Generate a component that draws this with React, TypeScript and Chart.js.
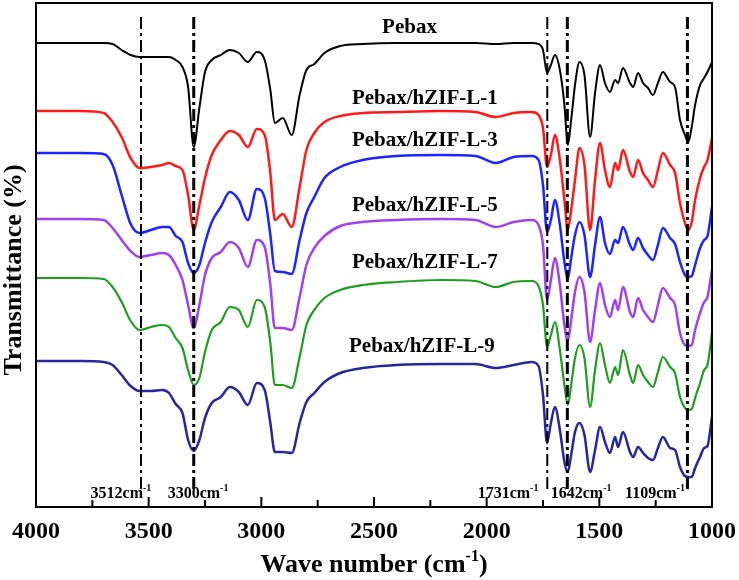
import React, { useEffect, useRef } from 'react';
import { Chart, registerables } from 'chart.js';

Chart.register(...registerables);

// Wavenumber grid (cm^-1), shared by all spectra
const wavenumbers = [
  4000, 3800, 3700, 3660, 3620, 3580, 3540, 3490, 3440, 3410,
  3380, 3350, 3325, 3300, 3275, 3250, 3220, 3180, 3140, 3100,
  3060, 3020, 2985, 2960, 2940, 2905, 2865, 2830, 2800, 2765,
  2720, 2650, 2550, 2400, 2200, 2050, 1960, 1880, 1800, 1770,
  1750, 1732, 1715, 1697, 1675, 1655, 1640, 1625, 1608, 1588,
  1566, 1541, 1519, 1497, 1475, 1453, 1430, 1417, 1395, 1364,
  1350, 1328, 1306, 1284, 1262, 1240, 1218, 1186, 1164, 1142,
  1120, 1105, 1090, 1075, 1053, 1035, 1020, 1000,
];

// Transmittance (arbitrary, stacked offsets)
const pebax = [
  457, 457, 457, 456, 450, 445, 443, 443, 443, 443,
  440, 433, 413, 353, 392, 428, 440, 445, 450, 447,
  438, 448, 440, 410, 377, 382, 365, 405, 430, 436,
  447, 454, 456, 457, 457, 457, 456, 457, 457, 456,
  450, 427, 435, 445, 430, 395, 355, 380, 415, 438,
  425, 363, 407, 435, 417, 408, 420, 417, 432, 417,
  413, 427, 417, 412, 405, 417, 428, 418, 413, 380,
  365, 358, 373, 395, 415, 422, 428, 438,
];
const hzif1 = [
  389, 389, 387, 378, 363, 342, 332, 333, 335, 337,
  334, 330, 305, 270, 295, 322, 345, 360, 369, 365,
  353, 371, 365, 327, 280, 286, 273, 313, 350, 367,
  378, 384, 387, 388, 389, 388, 383, 387, 388, 385,
  372, 333, 345, 365, 340, 300, 270, 290, 320, 352,
  335, 270, 320, 357, 330, 313, 337, 330, 350, 328,
  323, 340, 327, 320, 313, 330, 347, 335, 327, 297,
  277, 270, 278, 300, 322, 333, 340, 362,
];
const hzif3 = [
  347, 347, 346, 335, 305, 276, 267, 270, 273, 273,
  264, 258, 237, 227, 235, 257, 278, 293, 308, 300,
  280, 311, 302, 265, 229, 228, 226, 260, 287, 303,
  322, 333, 340, 344, 345, 344, 337, 343, 344, 340,
  315, 268, 280, 300, 275, 238, 221, 242, 265, 278,
  265, 223, 255, 283, 257, 246, 260, 257, 273, 255,
  250, 262, 252, 245, 240, 255, 272, 262, 256, 238,
  225, 223, 224, 235, 252, 260, 264, 293,
];
const hzif5 = [
  281, 281, 280, 272, 260, 249, 243, 245, 247, 245,
  235, 220, 195, 172, 195, 225, 242, 248, 258, 252,
  233, 260, 253, 215, 172, 172, 170, 203, 235, 252,
  264, 274, 278, 280, 281, 280, 273, 278, 280, 275,
  255, 200, 220, 242, 215, 175, 159, 180, 208, 223,
  208, 158, 190, 217, 195, 183, 200, 190, 213, 188,
  183, 202, 190, 183, 178, 195, 212, 202, 195, 167,
  155, 154, 155, 170, 187, 198, 203, 230,
];
const hzif7 = [
  222, 222, 221, 213, 198, 179, 170, 173, 175, 173,
  162, 152, 130, 115, 122, 148, 170, 178, 193, 190,
  173, 200, 193, 157, 115, 115, 112, 143, 175, 190,
  202, 210, 215, 218, 220, 219, 213, 218, 219, 214,
  195, 153, 165, 178, 150, 115, 95, 115, 142, 155,
  142, 93, 130, 157, 135, 117, 133, 125, 150, 125,
  117, 135, 125, 118, 113, 128, 143, 133, 127, 103,
  92, 90, 91, 102, 117, 130, 135, 167,
];
const hzif9 = [
  139, 139, 138, 135, 125, 114, 109, 109, 110, 107,
  96, 87, 60, 49, 60, 82, 97, 103, 113, 108,
  95, 117, 110, 77, 48, 48, 47, 77, 98, 107,
  118, 127, 132, 135, 136, 136, 132, 135, 138, 134,
  105, 57, 77, 93, 70, 38, 28, 45, 68, 77,
  65, 28, 50, 73, 58, 47, 63, 53, 68, 48,
  43, 53, 47, 42, 40, 52, 63, 52, 50, 33,
  24, 23, 23, 32, 43, 52, 54, 83,
];

const seriesNames = [
  'Pebax',
  'Pebax/hZIF-L-1',
  'Pebax/hZIF-L-3',
  'Pebax/hZIF-L-5',
  'Pebax/hZIF-L-7',
  'Pebax/hZIF-L-9',
];
const seriesValues = [pebax, hzif1, hzif3, hzif5, hzif7, hzif9];
const seriesColors = ['#000000', '#ff1a1a', '#1c24ff', '#a040f0', '#1e9e1e', '#26269e'];
const seriesWidths = [2, 2.5, 2.5, 2.5, 2.2, 2.5];

// Marked bands
const bandPositions = [3534, 3300, 1731, 1642, 1109];
const bandNames = ['3512', '3300', '1731', '1642', '1109'];

const xTicks = [4000, 3500, 3000, 2500, 2000, 1500, 1000];

const FONT = '"Liberation Serif", "Times New Roman", serif';

// Styling / placement of annotations (not data)
const labelAnchors = [
  { x: 2464, y: 472 },
  { x: 2598, y: 401 },
  { x: 2598, y: 359 },
  { x: 2598, y: 294 },
  { x: 2598, y: 237 },
  { x: 2611, y: 153 },
];
const bandLineWidths = [2, 3, 2, 3, 3];
const bandLabelCenters = [3623, 3281, 1905, 1581, 1253];

function drawSupText(
  ctx: CanvasRenderingContext2D,
  base: string,
  sup: string,
  tail: string,
  cx: number,
  baseline: number,
  size: number
) {
  const supSize = Math.round(size * 0.6);
  ctx.font = `bold ${size}px ${FONT}`;
  const wb = ctx.measureText(base).width;
  const wt = ctx.measureText(tail).width;
  ctx.font = `bold ${supSize}px ${FONT}`;
  const ws = ctx.measureText(sup).width;
  const total = wb + ws + wt;
  let x = cx - total / 2;
  ctx.textAlign = 'left';
  ctx.textBaseline = 'alphabetic';
  ctx.font = `bold ${size}px ${FONT}`;
  ctx.fillText(base, x, baseline);
  x += wb;
  ctx.font = `bold ${supSize}px ${FONT}`;
  ctx.fillText(sup, x, baseline - size * 0.42);
  x += ws;
  ctx.font = `bold ${size}px ${FONT}`;
  if (tail) ctx.fillText(tail, x, baseline);
}

const decorPlugin = {
  id: 'decor',
  afterDatasetsDraw(chart: any) {
    const { ctx, chartArea, scales } = chart;
    const { left, right, top, bottom } = chartArea;
    const xs = scales.x;
    const ys = scales.y;
    ctx.save();

    // dash-dot band lines
    ctx.strokeStyle = '#000';
    bandPositions.forEach((w, i) => {
      const px = xs.getPixelForValue(w);
      ctx.lineWidth = bandLineWidths[i];
      ctx.setLineDash([12, 4, 3, 4]);
      ctx.beginPath();
      ctx.moveTo(px, ys.getPixelForValue(483));
      ctx.lineTo(px, ys.getPixelForValue(8));
      ctx.stroke();
    });
    ctx.setLineDash([]);

    // band labels
    ctx.fillStyle = '#000';
    bandNames.forEach((name, i) => {
      const cx = xs.getPixelForValue(bandLabelCenters[i]);
      drawSupText(ctx, name + 'cm', '-1', '', cx, ys.getPixelForValue(2), 16);
    });

    // frame
    ctx.lineWidth = 2;
    ctx.strokeStyle = '#000';
    ctx.strokeRect(left, top, right - left, bottom - top);

    // inward ticks
    ctx.lineWidth = 2;
    for (let w = 1000; w <= 4000; w += 250) {
      const px = xs.getPixelForValue(w);
      const len = w % 500 === 0 ? 10 : 7;
      ctx.beginPath();
      ctx.moveTo(px, bottom);
      ctx.lineTo(px, bottom - len);
      ctx.stroke();
    }

    // series labels
    ctx.font = `bold 21px ${FONT}`;
    ctx.textAlign = 'left';
    ctx.textBaseline = 'middle';
    ctx.fillStyle = '#000';
    seriesNames.forEach((name, i) => {
      const a = labelAnchors[i];
      ctx.fillText(name, xs.getPixelForValue(a.x), ys.getPixelForValue(a.y));
    });

    // axis titles
    drawSupText(ctx, 'Wave number (cm', '-1', ')', (left + right) / 2, 572, 26);
    ctx.save();
    ctx.translate(14, 270);
    ctx.rotate(-Math.PI / 2);
    ctx.font = `bold 26px ${FONT}`;
    ctx.textAlign = 'center';
    ctx.textBaseline = 'middle';
    ctx.fillText('Transmittance (%)', 0, 0);
    ctx.restore();

    ctx.restore();
  },
};

export default function App() {
  const ref = useRef<HTMLCanvasElement | null>(null);

  useEffect(() => {
    if (!ref.current) return;
    const chart = new Chart(ref.current, {
      type: 'line',
      data: {
        datasets: seriesNames.map((name, i) => ({
          label: name,
          data: wavenumbers.map((w, j) => ({ x: w, y: seriesValues[i][j] })),
          borderColor: seriesColors[i],
          backgroundColor: seriesColors[i],
          borderWidth: seriesWidths[i],
          pointRadius: 0,
          fill: false,
          cubicInterpolationMode: 'monotone' as const,
        })),
      },
      options: {
        responsive: false,
        animation: false,
        layout: { padding: { left: 0, right: 27, top: 3, bottom: 0 } },
        plugins: {
          legend: { display: false },
          tooltip: { enabled: false },
        },
        scales: {
          x: {
            type: 'linear',
            reverse: true,
            min: 1000,
            max: 4000,
            grid: { display: false, drawTicks: false },
            border: { display: false },
            afterBuildTicks: (scale: any) => {
              scale.ticks = xTicks.map((v) => ({ value: v }));
            },
            ticks: {
              autoSkip: false,
              maxRotation: 0,
              padding: 10,
              color: '#000',
              font: { family: FONT, size: 24, weight: 'bold' },
              callback: (v: any) => String(v),
            },
            afterFit: (scale: any) => {
              scale.height = 73;
              scale.paddingLeft = 0;
              scale.paddingRight = 0;
            },
          },
          y: {
            type: 'linear',
            min: -7,
            max: 497,
            grid: { display: false },
            border: { display: false },
            ticks: { display: false },
            afterFit: (scale: any) => {
              scale.width = 36;
            },
          },
        },
      },
      plugins: [decorPlugin],
    } as any);
    return () => chart.destroy();
  }, []);

  return (
    <div style={{ position: 'fixed', left: 0, top: 0, width: 739, height: 580, background: '#fff' }}>
      <canvas ref={ref} width={739} height={580} style={{ display: 'block' }} />
    </div>
  );
}
